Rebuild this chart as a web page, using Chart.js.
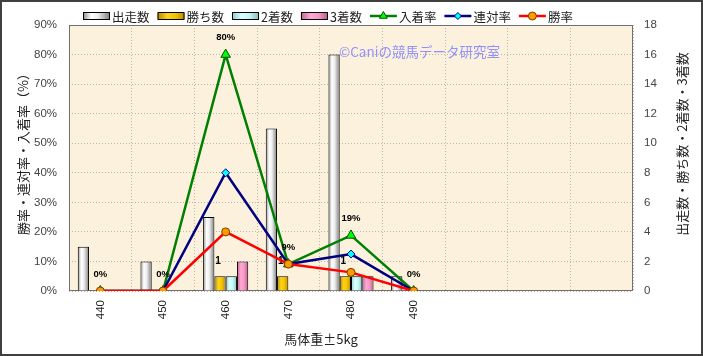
<!DOCTYPE html>
<html><head><meta charset="utf-8">
<script src="https://cdn.jsdelivr.net/npm/chart.js@4/dist/chart.umd.min.js"></script>
<style>html,body{margin:0;padding:0;background:#fff}#wrap{width:703px;height:356px}</style>
</head><body><div id="wrap"><canvas id="c" width="703" height="356"></canvas></div>
<script>
// ---- data ----
const categories = ['440', '450', '460', '470', '480', '490', '', '', ''];
const runners = [3, 2, 5, 11, 16, 1];      // 出走数
const wins = [0, 0, 1, 1, 1, 0];           // 勝ち数
const seconds = [0, 0, 1, 0, 1, 0];        // 2着数
const thirds = [0, 0, 2, 0, 1, 0];         // 3着数
const showRate = [0, 0, 80, 9.1, 18.8, 0]; // 入着率 (%)
const quinellaRate = [0, 0, 40, 9.1, 12.5, 0]; // 連対率 (%)
const winRate = [0, 0, 20, 9.1, 6.3, 0];   // 勝率 (%)
const showRateLabels = ['0%', '0%', '80%', '9%', '19%', '0%'];
const winsLabels = ['', '', '1', '1', '1', ''];

const JP = '"Noto Sans CJK JP", sans-serif';
const LAT = '"Liberation Sans", Arial, sans-serif';

const gradStops = {
  runners: [[0, '#8a8a8a'], [0.3, '#ffffff'], [0.55, '#eeeeee'], [1, '#7c7c7c']],
  wins: [[0, '#b08400'], [0.35, '#ffd21a'], [0.65, '#f5c400'], [1, '#b88a00']],
  seconds: [[0, '#8fc8c8'], [0.35, '#d8ffff'], [0.65, '#c4f6f6'], [1, '#86bcbc']],
  thirds: [[0, '#c0608f'], [0.35, '#ffaad4'], [0.65, '#f598c6'], [1, '#b85a88']]
};
function makeGrad(ctx, x0, x1, stops) {
  const g = ctx.createLinearGradient(x0, 0, x1, 0);
  stops.forEach(s => g.addColorStop(s[0], s[1]));
  return g;
}

const barBase = {
  type: 'bar', yAxisID: 'y1', order: 10,
  borderColor: '#000000',
  borderWidth: c => (c.raw ? 1 : 0),
  categoryPercentage: 0.72, barPercentage: 1.0
};

const datasets = [
  Object.assign({}, barBase, { label: '出走数', data: runners, backgroundColor: () => '#dddddd', gradKey: 'runners' }),
  Object.assign({}, barBase, { label: '勝ち数', data: wins, backgroundColor: () => '#ffcc00', gradKey: 'wins' }),
  Object.assign({}, barBase, { label: '2着数', data: seconds, backgroundColor: () => '#ccffff', gradKey: 'seconds' }),
  Object.assign({}, barBase, { label: '3着数', data: thirds, backgroundColor: () => '#ff99cc', gradKey: 'thirds' }),
  { type: 'line', label: '入着率', data: showRate, yAxisID: 'y', order: 3,
    borderColor: '#008000', borderWidth: 2.5, pointStyle: 'triangle', pointRadius: 5.5,
    pointBackgroundColor: '#00ff00', pointBorderColor: '#005000', pointBorderWidth: 1, tension: 0 },
  { type: 'line', label: '連対率', data: quinellaRate, yAxisID: 'y', order: 2,
    borderColor: '#000080', borderWidth: 2.5, pointStyle: 'rectRot', pointRadius: 4,
    pointBackgroundColor: '#00ffff', pointBorderColor: '#000080', pointBorderWidth: 1, tension: 0 },
  { type: 'line', label: '勝率', data: winRate, yAxisID: 'y', order: 1,
    borderColor: '#ff0000', borderWidth: 2.5, pointStyle: 'circle', pointRadius: 4,
    pointBackgroundColor: '#ff9900', pointBorderColor: '#7a3d00', pointBorderWidth: 1, tension: 0 }
];

const legendItems = [
  { label: '出走数', bar: 'runners' },
  { label: '勝ち数', bar: 'wins' },
  { label: '2着数', bar: 'seconds' },
  { label: '3着数', bar: 'thirds' },
  { label: '入着率', color: '#008000', style: 'triangle', r: 4.5, fill: '#00ff00', stroke: '#005000' },
  { label: '連対率', color: '#000080', style: 'rectRot', r: 3.5, fill: '#00ffff', stroke: '#000080' },
  { label: '勝率', color: '#ff0000', style: 'circle', r: 4, fill: '#ff9900', stroke: '#7a3d00' }
];

const deco = {
  id: 'deco',
  beforeDraw(chart) {
    const { ctx, chartArea: a } = chart;
    ctx.save();
    ctx.fillStyle = '#ffffff';
    ctx.fillRect(0, 0, chart.width, chart.height);
    ctx.fillStyle = '#fbf1dc';
    ctx.fillRect(a.left, a.top, a.right - a.left, a.bottom - a.top);
    ctx.restore();
  },
  beforeDatasetsDraw(chart) {
    const { ctx, chartArea: a } = chart;
    ctx.save();
    // plot border
    ctx.strokeStyle = '#707070';
    ctx.lineWidth = 1;
    ctx.strokeRect(a.left + 0.5, a.top + 0.5, a.right - a.left - 1, a.bottom - a.top - 1);
    // watermark
    ctx.fillStyle = '#9191ff';
    ctx.font = '13.5px ' + JP;
    ctx.textBaseline = 'middle';
    ctx.textAlign = 'left';
    ctx.fillText('©Caniの競馬データ研究室', 339, 52);
    ctx.restore();
    // bar gradients
    chart.data.datasets.forEach((ds, i) => {
      if (!ds.gradKey) return;
      const meta = chart.getDatasetMeta(i);
      meta.data.forEach(el => {
        if (el.x == null || !el.width) return;
        const g = makeGrad(ctx, el.x - el.width / 2, el.x + el.width / 2, gradStops[ds.gradKey]);
        el.options = Object.assign({}, el.options, { backgroundColor: g });
      });
    });
  },
  afterDatasetDraw(chart, args) {
    if (args.index !== 1) return; // 勝ち数 labels, under lines
    const { ctx } = chart;
    const meta = chart.getDatasetMeta(1);
    ctx.save();
    ctx.fillStyle = '#000';
    ctx.font = 'bold 10px ' + LAT;
    ctx.textAlign = 'center';
    ctx.textBaseline = 'middle';
    meta.data.forEach((el, i) => {
      if (winsLabels[i]) ctx.fillText(winsLabels[i], el.x - 2, el.y - 15);
    });
    ctx.restore();
  },
  afterDatasetsDraw(chart) {
    const { ctx } = chart;
    const meta = chart.getDatasetMeta(4);
    ctx.save();
    ctx.fillStyle = '#000';
    ctx.font = 'bold 9.5px ' + LAT;
    ctx.textAlign = 'center';
    ctx.textBaseline = 'middle';
    meta.data.forEach((el, i) => {
      if (showRateLabels[i]) ctx.fillText(showRateLabels[i], el.x, el.y - 17);
    });
    ctx.restore();
  },
  afterDraw(chart) {
    const { ctx } = chart;
    ctx.save();
    ctx.fillStyle = '#222';
    ctx.textAlign = 'center';
    ctx.textBaseline = 'middle';
    ctx.font = '13px ' + JP;
    // x title
    ctx.fillText('馬体重±5kg', 321, 339);
    // left title
    ctx.save();
    ctx.translate(23, 151);
    ctx.rotate(-Math.PI / 2);
    ctx.fillText('勝率・連対率・入着率（%）', 0, 0);
    ctx.restore();
    // right title
    ctx.save();
    ctx.translate(682, 144);
    ctx.rotate(-Math.PI / 2);
    ctx.fillText('出走数・勝ち数・2着数・3着数', 0, 0);
    ctx.restore();
    // legend
    ctx.font = '12.5px ' + JP;
    ctx.textAlign = 'left';
    let x = 83;
    const y = 16;
    legendItems.forEach(it => {
      if (it.bar) {
        ctx.fillStyle = makeGrad(ctx, x, x + 27, gradStops[it.bar]);
        ctx.fillRect(x, y - 3, 27, 6);
        ctx.strokeStyle = '#000';
        ctx.lineWidth = 1;
        ctx.strokeRect(x + 0.5, y - 3.5, 26, 7);
      } else {
        ctx.strokeStyle = it.color;
        ctx.lineWidth = 2.5;
        ctx.beginPath();
        ctx.moveTo(x, y);
        ctx.lineTo(x + 27, y);
        ctx.stroke();
        ctx.fillStyle = it.fill;
        ctx.strokeStyle = it.stroke;
        ctx.lineWidth = 1;
        Chart.helpers.drawPoint(ctx, { pointStyle: it.style, radius: it.r, borderWidth: 1, rotation: 0 }, x + 13.5, y);
      }
      ctx.fillStyle = '#222';
      ctx.fillText(it.label, x + 29, y + 1);
      x += 29 + ctx.measureText(it.label).width + 8;
    });
    // outer frame
    ctx.strokeStyle = '#404040';
    ctx.lineWidth = 2;
    ctx.strokeRect(1, 1, chart.width - 2, chart.height - 2);
    ctx.restore();
  }
};

new Chart(document.getElementById('c'), {
  type: 'bar',
  data: { labels: categories, datasets: datasets },
  options: {
    responsive: false,
    animation: false,
    events: [],
    layout: { padding: { top: 25, left: 0, right: 0, bottom: 0 } },
    plugins: { legend: { display: false }, title: { display: false }, tooltip: { enabled: false } },
    scales: {
      x: {
        type: 'category',
        offset: true,
        grid: { offset: true, color: '#bdb5a6', lineWidth: 1, drawTicks: false },
        border: { display: false, dash: [1, 2] },
        ticks: { color: '#222', font: { family: LAT, size: 11.5 }, minRotation: 90, maxRotation: 90, padding: 9, autoSkip: false },
        afterFit(s) { s.height = 65; }
      },
      y: {
        position: 'left', min: 0, max: 90,
        grid: { color: '#bdb5a6', lineWidth: 1, drawTicks: false },
        border: { display: false, dash: [1, 2] },
        ticks: { stepSize: 10, color: '#444', font: { family: LAT, size: 11.5 }, padding: 12, callback: v => v + '%' },
        afterFit(s) { s.width = 69; }
      },
      y1: {
        position: 'right', min: 0, max: 18,
        grid: { drawOnChartArea: false, drawTicks: false },
        border: { display: false },
        ticks: { stepSize: 2, color: '#444', font: { family: LAT, size: 11.5 }, padding: 11 },
        afterFit(s) { s.width = 70; }
      }
    }
  },
  plugins: [deco]
});
</script>
</body></html>
